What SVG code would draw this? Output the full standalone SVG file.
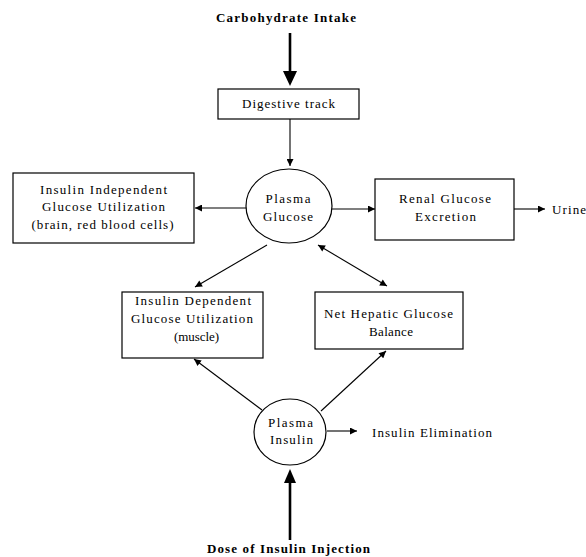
<svg xmlns="http://www.w3.org/2000/svg" width="586" height="557" viewBox="0 0 586 557">
  <style>
    .box { fill: #ffffff; stroke: #000000; stroke-width: 1.2; }
    .node-ellipse { fill: #ffffff; stroke: #000000; stroke-width: 1.2; }
    .t { font-family: "Liberation Serif", "Times New Roman", serif; font-size: 13px; fill: #000000; text-anchor: middle; }
    .tl { font-family: "Liberation Serif", "Times New Roman", serif; font-size: 13px; fill: #000000; }
    .tb { font-family: "Liberation Serif", "Times New Roman", serif; font-size: 13px; font-weight: bold; fill: #000000; text-anchor: middle; }
    .edge { stroke: #000000; stroke-width: 1.1; fill: none; }
    .thick { stroke: #000000; stroke-width: 2.6; fill: none; }
  </style>
  <defs>
    <marker id="head" viewBox="0 0 10 10" refX="10" refY="5" markerWidth="8" markerHeight="7" markerUnits="userSpaceOnUse" orient="auto-start-reverse">
      <path d="M0,0 L10,5 L0,10 z" fill="#000000"/>
    </marker>
  </defs>

  <rect width="586" height="557" fill="#ffffff"/>

  <!-- connectors -->
  <g id="connectors">
    <!-- carbohydrate intake into digestive track -->
    <line class="thick" x1="290" y1="33" x2="290" y2="73"/>
    <polygon points="283,71 297,71 290,86" fill="#000000"/>
    <!-- digestive track to plasma glucose -->
    <line class="edge" x1="290" y1="119" x2="290" y2="166" marker-end="url(#head)"/>
    <!-- plasma glucose to insulin independent utilization -->
    <line class="edge" x1="247" y1="208" x2="195" y2="208" marker-end="url(#head)"/>
    <!-- plasma glucose to renal excretion -->
    <line class="edge" x1="332" y1="209" x2="375" y2="209" marker-end="url(#head)"/>
    <!-- renal excretion to urine -->
    <line class="edge" x1="514" y1="209" x2="545" y2="209" marker-end="url(#head)"/>
    <!-- plasma glucose to insulin dependent utilization -->
    <line class="edge" x1="267" y1="245" x2="195" y2="287" marker-end="url(#head)"/>
    <!-- plasma glucose and hepatic balance, both ways -->
    <line class="edge" x1="318" y1="245" x2="387" y2="286" marker-start="url(#head)" marker-end="url(#head)"/>
    <!-- plasma insulin to insulin dependent utilization -->
    <line class="edge" x1="262" y1="410" x2="194" y2="359" marker-end="url(#head)"/>
    <!-- plasma insulin to hepatic balance -->
    <line class="edge" x1="321" y1="411" x2="386" y2="351" marker-end="url(#head)"/>
    <!-- plasma insulin to elimination -->
    <line class="edge" x1="327" y1="431" x2="357" y2="431" marker-end="url(#head)"/>
    <!-- insulin injection into plasma insulin -->
    <line class="thick" x1="290" y1="540" x2="290" y2="480"/>
    <polygon points="284,483 296,483 290,469" fill="#000000"/>
  </g>

  <!-- nodes -->
  <g id="carbohydrate-intake">
    <text class="tb" x="286" y="22" textLength="140" lengthAdjust="spacing">Carbohydrate Intake</text>
  </g>

  <g id="digestive-track">
    <rect class="box" x="218" y="89" width="141" height="30"/>
    <text class="t" x="288.5" y="108" textLength="93" lengthAdjust="spacing">Digestive track</text>
  </g>

  <g id="plasma-glucose">
    <ellipse class="node-ellipse" cx="289" cy="206" rx="43" ry="37"/>
    <text class="t" x="288" y="203" textLength="45" lengthAdjust="spacing">Plasma</text>
    <text class="t" x="288" y="221" textLength="50" lengthAdjust="spacing">Glucose</text>
  </g>

  <g id="insulin-independent">
    <rect class="box" x="13" y="173" width="181" height="70"/>
    <text class="t" x="103.5" y="194" textLength="127" lengthAdjust="spacing">Insulin Independent</text>
    <text class="t" x="103.5" y="211" textLength="123" lengthAdjust="spacing">Glucose Utilization</text>
    <text class="t" x="102.5" y="229" textLength="142" lengthAdjust="spacing">(brain, red blood cells)</text>
  </g>

  <g id="renal-excretion">
    <rect class="box" x="375" y="179" width="139" height="61"/>
    <text class="t" x="445" y="203" textLength="92" lengthAdjust="spacing">Renal Glucose</text>
    <text class="t" x="445.5" y="221" textLength="61" lengthAdjust="spacing">Excretion</text>
  </g>

  <g id="urine">
    <text class="tl" x="552" y="214" textLength="34" lengthAdjust="spacing">Urine</text>
  </g>

  <g id="insulin-dependent">
    <rect class="box" x="122" y="292" width="141" height="66"/>
    <text class="t" x="193" y="305" textLength="116" lengthAdjust="spacing">Insulin Dependent</text>
    <text class="t" x="192" y="323" textLength="122" lengthAdjust="spacing">Glucose Utilization</text>
    <text class="t" x="196.5" y="341" textLength="45" lengthAdjust="spacing">(muscle)</text>
  </g>

  <g id="hepatic-balance">
    <rect class="box" x="315" y="292" width="148" height="57"/>
    <text class="t" x="388.5" y="318" textLength="129" lengthAdjust="spacing">Net Hepatic Glucose</text>
    <text class="t" x="391" y="336" textLength="44" lengthAdjust="spacing">Balance</text>
  </g>

  <g id="plasma-insulin">
    <ellipse class="node-ellipse" cx="290" cy="432" rx="36" ry="33"/>
    <text class="t" x="290.5" y="427" textLength="45" lengthAdjust="spacing">Plasma</text>
    <text class="t" x="291.5" y="444" textLength="43" lengthAdjust="spacing">Insulin</text>
  </g>

  <g id="insulin-elimination">
    <text class="tl" x="372" y="437" textLength="120" lengthAdjust="spacing">Insulin Elimination</text>
  </g>

  <g id="insulin-injection">
    <text class="tb" x="288.5" y="553" textLength="163" lengthAdjust="spacing">Dose of Insulin Injection</text>
  </g>
</svg>
